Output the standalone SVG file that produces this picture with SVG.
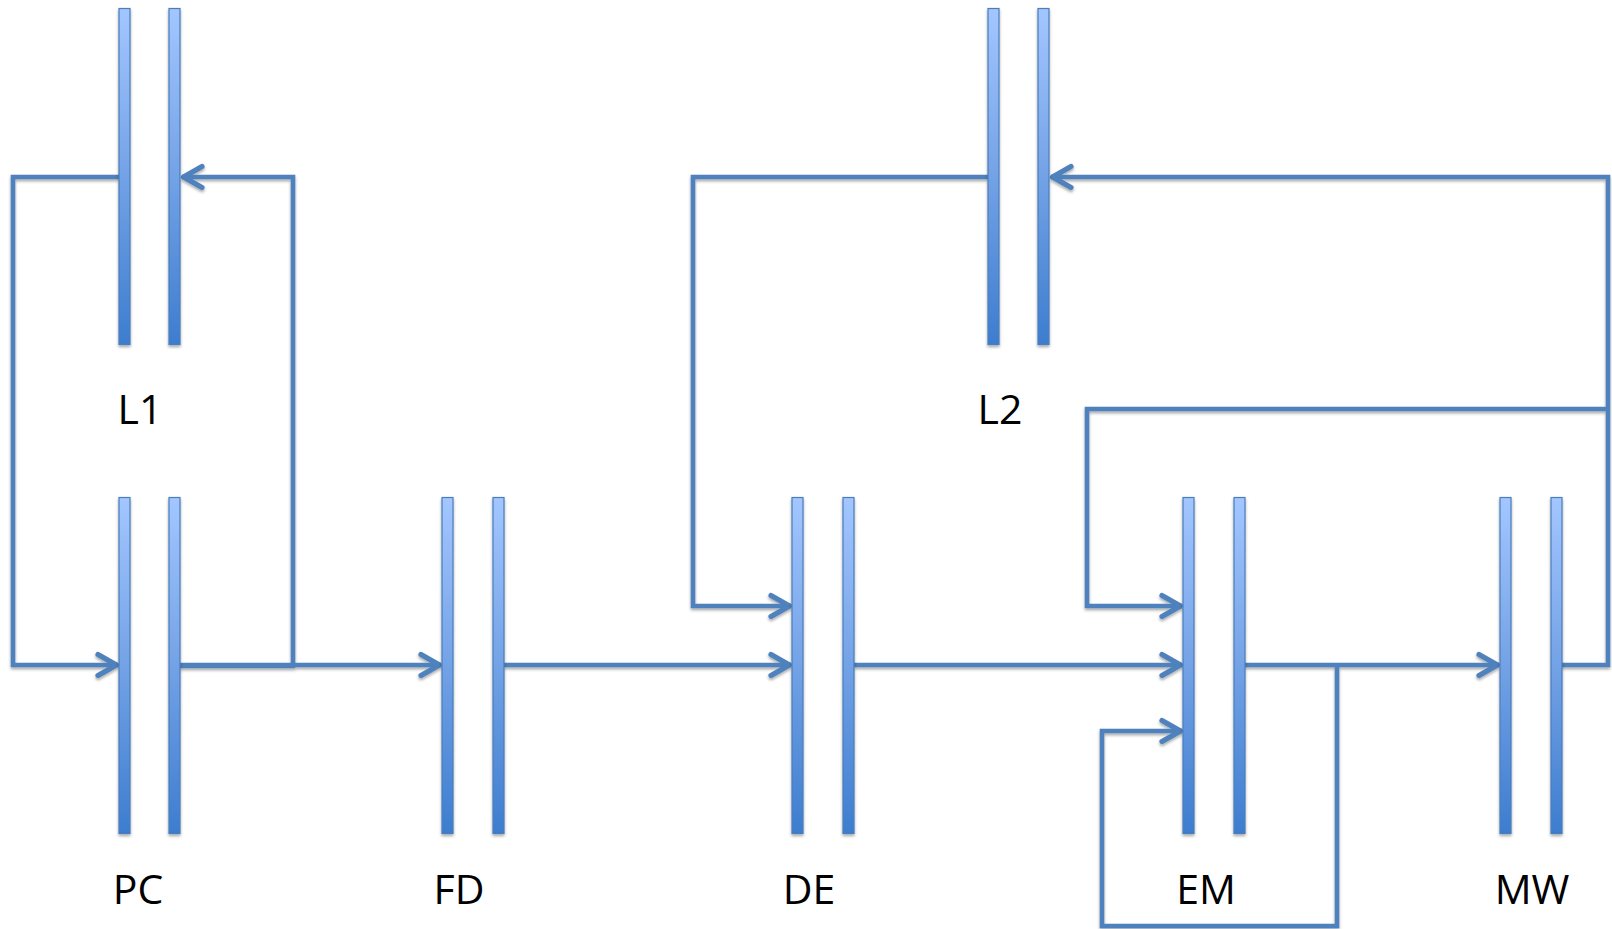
<svg xmlns="http://www.w3.org/2000/svg" width="1612" height="929" viewBox="0 0 1612 929">
<style>
.bar{fill:url(#barGrad);stroke:#4a7ebb;stroke-width:1.2}
.conn{fill:none;stroke:#4f81bd;stroke-width:4.6;stroke-linejoin:miter}
.lbl{font-family:"Open Sans","Liberation Sans",sans-serif;font-size:41px;fill:#000;text-anchor:middle}
</style>
<defs>
<linearGradient id="barGrad" x1="0" y1="0" x2="0" y2="1">
<stop offset="0" stop-color="#a3c6ff"/>
<stop offset="0.5" stop-color="#73a2e6"/>
<stop offset="1" stop-color="#3d7dcf"/>
</linearGradient>
<filter id="sh" x="-20%" y="-20%" width="140%" height="140%">
<feDropShadow dx="0" dy="2" stdDeviation="1.5" flood-color="#000" flood-opacity="0.35"/>
</filter>
<marker id="arr" markerUnits="userSpaceOnUse" viewBox="-26 -15 30 30" markerWidth="30" markerHeight="30" refX="0" refY="0" orient="auto">
<path d="M-20,-10.5 L-1.5,0 L-20,10.5" fill="none" stroke="#4f81bd" stroke-width="5.2" stroke-linecap="round" stroke-linejoin="round"/>
</marker>
</defs>
<rect width="1612" height="929" fill="#fff"/>
<g id="connectors" class="conn" filter="url(#sh)">
<path d="M119,177 H13 V665 H118" marker-end="url(#arr)"/>
<path d="M180,666 H293 V177 H182" marker-end="url(#arr)"/>
<path d="M180,665 H441" marker-end="url(#arr)"/>
<path d="M504,665 H791" marker-end="url(#arr)"/>
<path d="M988,177 H693 V606 H791" marker-end="url(#arr)"/>
<path d="M854,665 H1182" marker-end="url(#arr)"/>
<path d="M1561,665 H1608 V177 H1051" marker-end="url(#arr)"/>
<path d="M1608,409 H1087 V606 H1182" marker-end="url(#arr)"/>
<path d="M1245,665 H1499" marker-end="url(#arr)"/>
<path d="M1337,666 V926 H1102 V731 H1182" marker-end="url(#arr)"/>
</g>
<g id="L1" filter="url(#sh)">
<rect class="bar" x="119" y="8.5" width="11" height="336"/>
<rect class="bar" x="169" y="8.5" width="11" height="336"/>
</g>
<text class="lbl" x="140" y="424">L1</text>
<g id="L2" filter="url(#sh)">
<rect class="bar" x="988" y="8.5" width="11" height="336"/>
<rect class="bar" x="1038" y="8.5" width="11" height="336"/>
</g>
<text class="lbl" x="1000" y="424">L2</text>
<g id="PC" filter="url(#sh)">
<rect class="bar" x="119" y="497.5" width="11" height="336"/>
<rect class="bar" x="169" y="497.5" width="11" height="336"/>
</g>
<text class="lbl" x="138" y="904">PC</text>
<g id="FD" filter="url(#sh)">
<rect class="bar" x="442" y="497.5" width="11" height="336"/>
<rect class="bar" x="493" y="497.5" width="11" height="336"/>
</g>
<text class="lbl" x="459" y="904">FD</text>
<g id="DE" filter="url(#sh)">
<rect class="bar" x="792" y="497.5" width="11" height="336"/>
<rect class="bar" x="843" y="497.5" width="11" height="336"/>
</g>
<text class="lbl" x="809" y="904">DE</text>
<g id="EM" filter="url(#sh)">
<rect class="bar" x="1183" y="497.5" width="11" height="336"/>
<rect class="bar" x="1234" y="497.5" width="11" height="336"/>
</g>
<text class="lbl" x="1206" y="904">EM</text>
<g id="MW" filter="url(#sh)">
<rect class="bar" x="1500" y="497.5" width="11" height="336"/>
<rect class="bar" x="1551" y="497.5" width="11" height="336"/>
</g>
<text class="lbl" x="1532" y="904">MW</text>
</svg>
